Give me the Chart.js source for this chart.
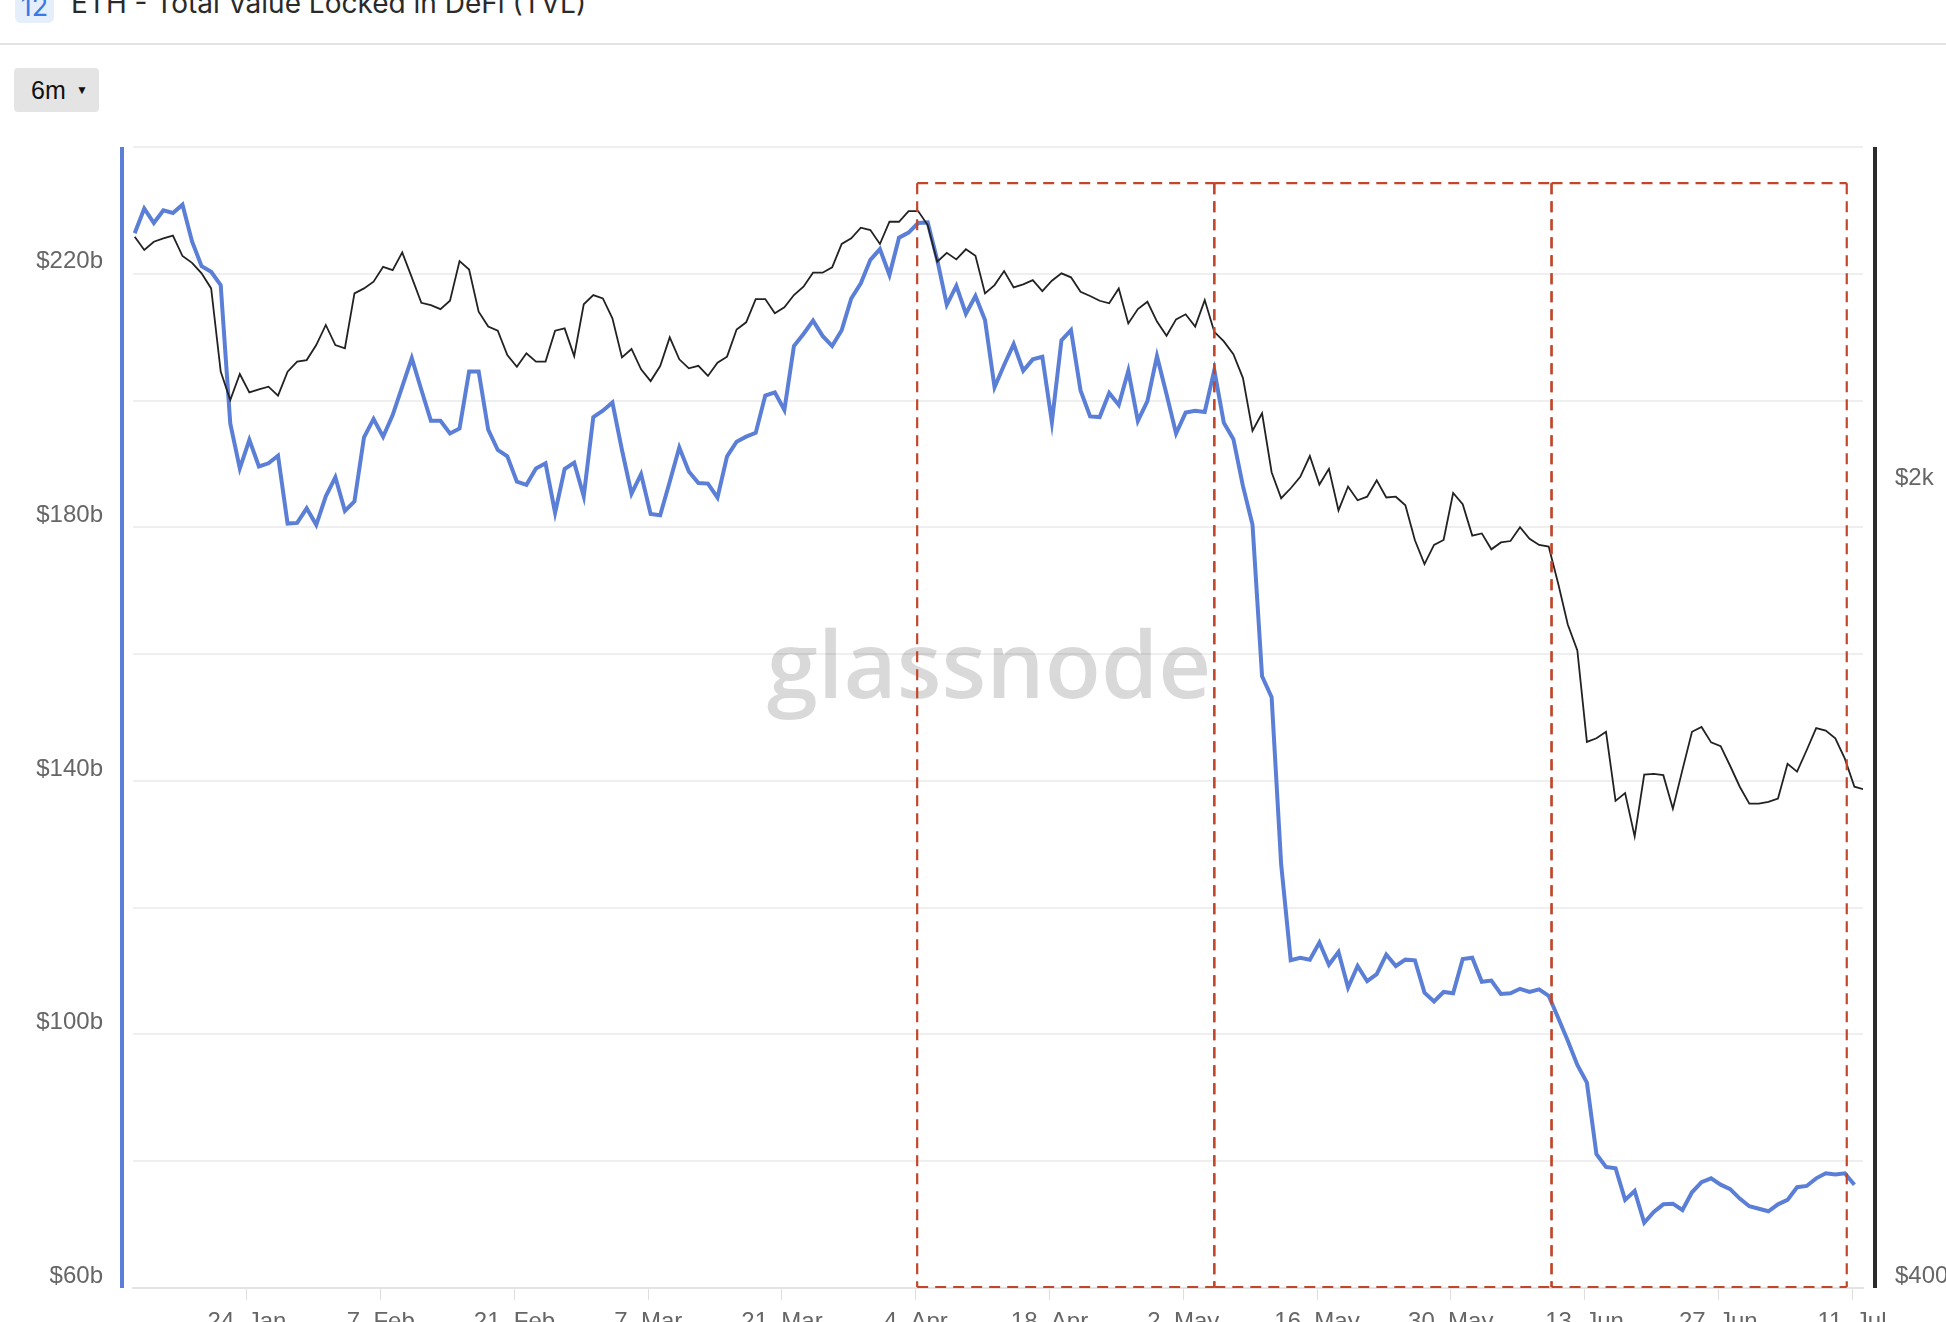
<!DOCTYPE html>
<html>
<head>
<meta charset="utf-8">
<title>ETH - Total Value Locked in DeFi (TVL)</title>
<script src="https://cdn.jsdelivr.net/npm/chart.js@4.4.1/dist/chart.umd.min.js"></script>
<style>
    html, body { margin: 0; padding: 0; background: #fff; }
    body { width: 1946px; height: 1322px; position: relative; overflow: hidden; font-family: "Liberation Sans", Arial, sans-serif; }
    #chart { position: absolute; left: 0; top: 0; }
    .badge { position: absolute; left: 15px; top: -10px; width: 39px; height: 33px; background: #e5eefb; border-radius: 6px; color: #3b78e7; font: 27px Inter, sans-serif; line-height: 33px; text-align: center; }
    .title { position: absolute; left: 71px; top: -11px; font: 28px Inter, sans-serif; line-height: 28px; color: #2a2a2a; white-space: nowrap; }
    .sep { position: absolute; left: 0; top: 43px; width: 1946px; height: 2px; background: #e3e3e3; }
    .range { position: absolute; left: 14px; top: 68px; width: 85px; height: 44px; background: #e4e4e4; border-radius: 4px; color: #111; font-size: 25px; line-height: 44px; }
    .range span { position: absolute; left: 17px; }
    .range i { position: absolute; left: 62px; font-style: normal; font-size: 12px; }
</style>
</head>
<body>
<div class="badge">12</div>
<div class="title">ETH - Total Value Locked in DeFi (TVL)</div>
<div class="sep"></div>
<div class="range"><span>6m</span><i>▼</i></div>
<canvas id="chart" width="1946" height="1322"></canvas>
<script>
// daily samples, index 0 = first day of the 6m window
const tvl = [
    226.4, 230.3, 228.0, 230.0, 229.6, 230.9, 225.1, 221.2, 220.3, 218.2,
    196.4, 189.3, 193.8, 189.6, 190.1, 191.3, 180.6, 180.7, 183.0, 180.4,
    184.9, 187.9, 182.6, 184.1, 194.2, 197.1, 194.3, 197.7, 202.2, 206.7,
    201.7, 196.8, 196.8, 194.8, 195.6, 204.6, 204.6, 195.4, 192.2, 191.2,
    187.2, 186.7, 189.3, 190.1, 182.3, 189.2, 190.2, 184.9, 197.4, 198.4,
    199.7, 192.2, 185.3, 188.4, 182.1, 181.9, 187.2, 192.6, 188.8, 187.0,
    186.9, 184.7, 191.2, 193.5, 194.3, 194.9, 200.8, 201.3, 198.5, 208.6,
    210.5, 212.6, 210.2, 208.6, 211.1, 216.1, 218.5, 222.2, 223.9, 219.8,
    225.7, 226.5, 228.0, 228.1, 222.2, 215.1, 218.1, 213.7, 216.5, 212.7,
    202.1, 205.6, 208.9, 204.7, 206.5, 206.9, 196.6, 209.5, 211.1, 201.6,
    197.5, 197.4, 201.2, 199.3, 204.7, 196.8, 199.9, 207.0, 201.0, 194.8,
    198.1, 198.4, 198.2, 204.8, 196.5, 193.9, 186.5, 180.4, 156.5, 153.2,
    126.8, 111.7, 112.1, 111.8, 114.5, 111.0, 113.0, 107.4, 110.8, 108.4,
    109.5, 112.6, 110.8, 111.8, 111.7, 106.6, 105.2, 106.7, 106.5, 111.9,
    112.1, 108.3, 108.5, 106.4, 106.5, 107.2, 106.7, 107.1, 106.1, 102.6,
    99.0, 95.2, 92.4, 81.1, 79.1, 78.9, 73.9, 75.3, 70.3, 72.0,
    73.2, 73.3, 72.3, 75.1, 76.7, 77.3, 76.3, 75.6, 74.1, 72.9,
    72.5, 72.1, 73.2, 73.9, 75.9, 76.1, 77.3, 78.1, 77.9, 78.1,
    76.3
]

const price = [
    3337, 3249, 3304, 3327, 3345, 3210, 3166, 3100, 3007, 2542,
    2400, 2530, 2438, 2453, 2466, 2422, 2542, 2594, 2602, 2682,
    2793, 2682, 2665, 2977, 3007, 3048, 3141, 3120, 3234, 3075,
    2921, 2907, 2884, 2933, 3177, 3124, 2869, 2784, 2761, 2629,
    2567, 2638, 2594, 2594, 2761, 2774, 2623, 2912, 2967, 2947,
    2831, 2616, 2661, 2554, 2494, 2571, 2724, 2606, 2559, 2572,
    2520, 2588, 2620, 2768, 2808, 2943, 2943, 2860, 2894, 2967,
    3017, 3104, 3104, 3138, 3289, 3327, 3399, 3383, 3289, 3440,
    3440, 3515, 3515, 3417, 3173, 3231, 3188, 3254, 3212, 2977,
    3027, 3114, 3013, 3032, 3058, 2991, 3054, 3100, 3075, 2987,
    2961, 2933, 2918, 3007, 2802, 2884, 2927, 2812, 2733, 2825,
    2854, 2784, 2937, 2755, 2702, 2633, 2509, 2256, 2337, 2075,
    1969, 2009, 2056, 2144, 2024, 2089, 1921, 2016, 1961, 1975,
    2041, 1972, 1975, 1941, 1809, 1724, 1792, 1810, 1990, 1945,
    1826, 1834, 1776, 1801, 1806, 1857, 1814, 1792, 1786, 1657,
    1526, 1448, 1204, 1213, 1229, 1069, 1086, 995, 1127, 1129,
    1126, 1052, 1138, 1229, 1241, 1203, 1194, 1147, 1100, 1063,
    1063, 1067, 1074, 1152, 1134, 1184, 1238, 1232, 1213, 1164,
    1100, 1094
]

const tickLabels = ["24. Jan", "7. Feb", "21. Feb", "7. Mar", "21. Mar", "4. Apr", "18. Apr",
                    "2. May", "16. May", "30. May", "13. Jun", "27. Jun", "11. Jul"]
const priceTicks = [400, 2000]

// ticks are local midnight, samples sit 18h earlier on the axis
const firstTick = 11.75
const tickDays = tickLabels.map((_, i) => firstTick + i * 14)

// highlighted periods (in sample days) drawn as dashed boxes
const highlights = [[81.9, 113.0], [113.0, 148.3], [148.3, 179.2]]
const highlightTop = 234.3

const toPoints = values => values.map((v, i) => ({ x: i, y: v }))

const axisFont = { family: "'Liberation Sans', Arial, sans-serif", size: 24 }
const labelColor = "#666"
const blue = "#5b7fd6"

// keep the plot area where the reference has it, labels may overhang
const noPadding = scale => {
    scale.paddingTop = 0
    scale.paddingBottom = 0
    scale.paddingLeft = 0
    scale.paddingRight = 0
}

const watermark = {
    id: "watermark",
    beforeDatasetsDraw(chart) {
        const { ctx, chartArea } = chart
        ctx.save()
        ctx.font = "600 92px 'Open Sans', sans-serif"
        ctx.fillStyle = "rgba(0, 0, 0, 0.15)"
        ctx.textAlign = "center"
        ctx.textBaseline = "alphabetic"
        ctx.fillText("glassnode", chartArea.left + 856, chartArea.top + 551)
        ctx.restore()
    }
}

const dashedLine = (ctx, x1, y1, x2, y2) => {
    ctx.beginPath()
    ctx.moveTo(x1, y1)
    ctx.lineTo(x2, y2)
    ctx.stroke()
}

const highlightBoxes = {
    id: "highlightBoxes",
    afterDatasetsDraw(chart) {
        const { ctx, scales } = chart
        const top = scales.yTvl.getPixelForValue(highlightTop)
        const bottom = scales.yTvl.getPixelForValue(60) - 1
        ctx.save()
        ctx.strokeStyle = "#c2462a"
        ctx.lineWidth = 2.2
        ctx.setLineDash([11, 7])
        highlights.forEach(([from, to]) => {
            const x1 = scales.x.getPixelForValue(from)
            const x2 = scales.x.getPixelForValue(to)
            dashedLine(ctx, x1, top, x2, top)
            dashedLine(ctx, x1, bottom, x2, bottom)
            dashedLine(ctx, x1, top, x1, bottom)
            dashedLine(ctx, x2, top, x2, bottom)
        })
        ctx.restore()
    }
}

const axisLines = {
    id: "axisLines",
    afterDraw(chart) {
        const { ctx, chartArea } = chart
        ctx.save()
        ctx.lineWidth = 4
        ctx.strokeStyle = blue
        ctx.beginPath()
        ctx.moveTo(chartArea.left - 11, chartArea.top)
        ctx.lineTo(chartArea.left - 11, chartArea.bottom)
        ctx.stroke()
        ctx.strokeStyle = "#2b2b2b"
        ctx.beginPath()
        ctx.moveTo(chartArea.right + 12, chartArea.top)
        ctx.lineTo(chartArea.right + 12, chartArea.bottom)
        ctx.stroke()
        ctx.restore()
    }
}

const context = document.getElementById("chart").getContext("2d")

new Chart(context, {
    type: "line",
    data: {
        datasets: [{
            label: "Price",
            data: toPoints(price),
            yAxisID: "yPrice",
            borderColor: "#222",
            borderWidth: 1.8,
            pointRadius: 0,
            tension: 0
        }, {
            label: "TVL",
            data: toPoints(tvl),
            yAxisID: "yTvl",
            borderColor: blue,
            borderWidth: 4,
            pointRadius: 0,
            tension: 0
        }]
    },
    options: {
        responsive: false,
        animation: false,
        devicePixelRatio: 1,
        layout: { padding: { top: 147 } },
        plugins: {
            legend: { display: false },
            tooltip: { enabled: false }
        },
        scales: {
            x: {
                type: "linear",
                min: -0.18,
                max: 180.9,
                afterFit: scale => { scale.height = 34; noPadding(scale) },
                afterBuildTicks: scale => { scale.ticks = tickDays.map(v => ({ value: v })) },
                ticks: {
                    callback: (value, index) => tickLabels[index],
                    font: axisFont,
                    color: labelColor,
                    padding: 8,
                    maxRotation: 0,
                    autoSkip: false
                },
                grid: { drawOnChartArea: false, drawTicks: true, tickLength: 12, color: "#dedede", lineWidth: 1 },
                border: { color: "#e4e4e4", width: 2 }
            },
            yTvl: {
                position: "left",
                min: 60,
                max: 240,
                afterFit: scale => { scale.width = 133; noPadding(scale) },
                ticks: {
                    stepSize: 20,
                    callback: v => ((v - 60) % 40 === 0 && v < 240) ? "$" + v + "b" : "",
                    font: axisFont,
                    color: labelColor,
                    padding: 30,
                    labelOffset: -12
                },
                grid: { color: "#efefef", lineWidth: 2, drawTicks: false },
                border: { display: false }
            },
            yPrice: {
                type: "logarithmic",
                position: "right",
                min: 400,
                max: 4000,
                afterFit: scale => { scale.width = 83; noPadding(scale) },
                afterBuildTicks: scale => { scale.ticks = priceTicks.map(v => ({ value: v })) },
                ticks: {
                    callback: v => v >= 1000 ? "$" + (v / 1000) + "k" : "$" + v,
                    font: axisFont,
                    color: labelColor,
                    padding: 32,
                    labelOffset: -12
                },
                grid: { display: false, drawTicks: false },
                border: { display: false }
            }
        }
    },
    plugins: [watermark, highlightBoxes, axisLines]
})
</script>
</body>
</html>
